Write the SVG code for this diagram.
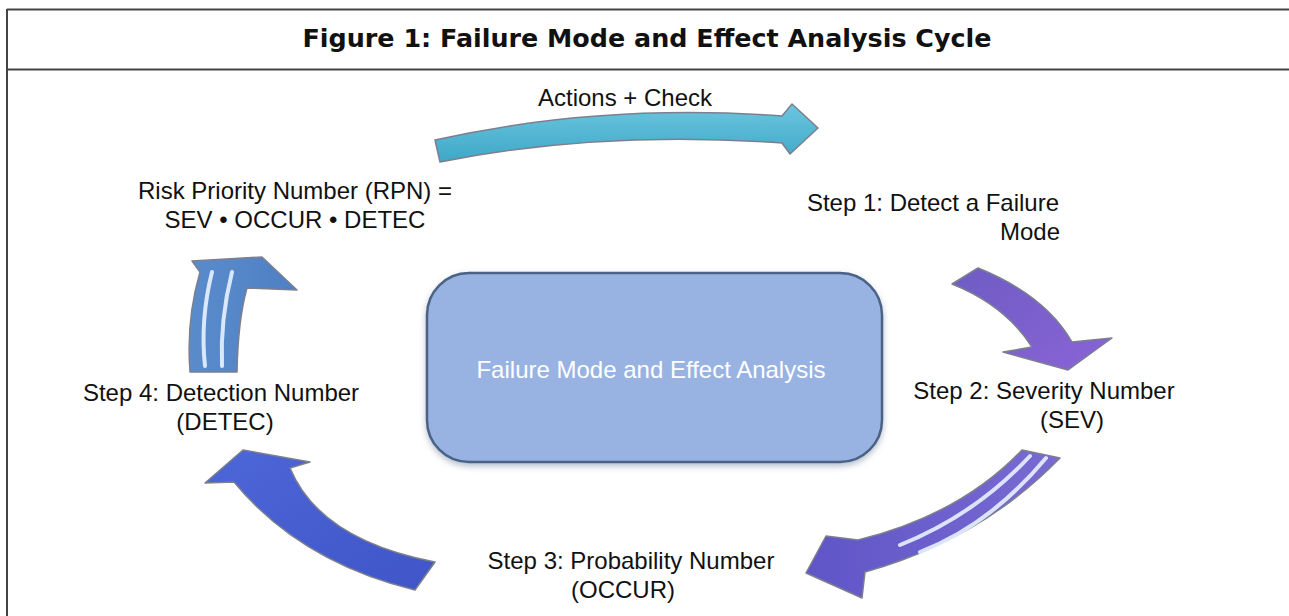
<svg xmlns="http://www.w3.org/2000/svg" width="1289" height="616" viewBox="0 0 1289 616">
<style>
.lbl{font-family:"Liberation Sans",Arial,sans-serif;font-size:24px;fill:#111;text-anchor:middle}
.title{font-family:"DejaVu Sans",Verdana,sans-serif;font-size:24px;font-weight:bold;fill:#111;text-anchor:middle}
.frame{stroke:#444;stroke-width:2;fill:none}
.arw{stroke:#7b7f8e;stroke-width:1.5;stroke-linejoin:round}
.stripe{stroke:#e8f2ff;stroke-width:4;fill:none;stroke-linecap:round;opacity:.9}
</style>
<defs>
<linearGradient id="gCyan" x1="0" y1="0" x2="0" y2="1">
<stop offset="0" stop-color="#6cc6de"/><stop offset="1" stop-color="#3ea7c8"/>
</linearGradient>
<linearGradient id="gPur1" x1="0" y1="0" x2="1" y2="1">
<stop offset="0" stop-color="#6e5cc4"/><stop offset="1" stop-color="#8a63d6"/>
</linearGradient>
<linearGradient id="gPur2" x1="0" y1="0" x2="1" y2="0">
<stop offset="0" stop-color="#5f55c8"/><stop offset="1" stop-color="#7a6ad2"/>
</linearGradient>
<linearGradient id="gBlue" x1="0" y1="0" x2="1" y2="1">
<stop offset="0" stop-color="#4d66d8"/><stop offset="1" stop-color="#3f55c8"/>
</linearGradient>
<linearGradient id="gStr" x1="0" y1="0" x2="1" y2="0">
<stop offset="0" stop-color="#5a8ccc"/><stop offset="1" stop-color="#4f7fc4"/>
</linearGradient>
<filter id="shadow" x="-10%" y="-10%" width="120%" height="130%">
<feGaussianBlur in="SourceAlpha" stdDeviation="3"/>
<feOffset dx="0" dy="3" result="b"/>
<feFlood flood-color="#6a7d9c" flood-opacity="0.5"/>
<feComposite in2="b" operator="in"/>
<feMerge><feMergeNode/><feMergeNode in="SourceGraphic"/></feMerge>
</filter>
</defs>
<rect width="1289" height="616" fill="#fff"/>
<g id="frame">
<line class="frame" x1="7" y1="9.5" x2="1289" y2="9.5"/>
<line class="frame" x1="7" y1="69.5" x2="1289" y2="69.5"/>
<line class="frame" x1="7" y1="9" x2="7" y2="616"/>
</g>
<g id="title"><text class="title" x="647" y="47" textLength="689" lengthAdjust="spacingAndGlyphs">Figure 1: Failure Mode and Effect Analysis Cycle</text></g>

<g id="connectors">
<path id="arrow-actions" class="arw" fill="url(#gCyan)" d="M435,140 Q600,103 782,116 L792,104 L818,128 L790,154 L782,143 Q600,130 440,162 Z"/>
<path id="arrow-step1-step2" class="arw" fill="url(#gPur1)" d="M952,284 L978,268 Q1045,295 1072,342 L1112,338 L1068,370 L1003,352 L1032,347 Q1005,305 952,284 Z"/>
<g id="arrow-step2-step3">
<path class="arw" fill="url(#gPur2)" d="M1022,450 L1060,458 Q980,540 865,572 L862,598 L806,573 L826,536 L858,540 Q960,515 1022,450 Z"/>
<path class="stripe" stroke-width="3" d="M1030,456 Q975,515 900,545"/>
<path class="stripe" stroke-width="3" d="M1046,458 Q990,525 920,552"/>
</g>
<g id="arrow-step3-step4">
<path class="arw" fill="url(#gBlue)" d="M435,562 L415,590 Q300,562 234,482 L205,483 L243,450 L310,462 L290,468 Q320,540 435,562 Z"/>
</g>
<g id="arrow-step4-rpn">
<path class="arw" fill="url(#gStr)" d="M190,372 L237,372 Q238,320 247,288 L297,290 L262,257 L192,261 L200,272 Q186,320 190,372 Z"/>
<path class="stripe" d="M205,366 Q200,320 212,272"/>
<path class="stripe" d="M222,366 Q220,320 232,272"/>
</g>
</g>

<g id="node-fmea">
<rect x="427" y="273" width="455" height="189" rx="42" ry="42" fill="#98b3e2" stroke="#4a6286" stroke-width="2.5" filter="url(#shadow)"/>
<text class="lbl" x="651" y="378" style="fill:#fff">Failure Mode and Effect Analysis</text>
</g>
<g id="node-actions"><text class="lbl" x="625" y="106">Actions + Check</text></g>
<g id="node-rpn">
<text class="lbl" x="295" y="199">Risk Priority Number (RPN) =</text>
<text class="lbl" x="295" y="228">SEV • OCCUR • DETEC</text>
</g>
<g id="node-step1">
<text class="lbl" x="933" y="211">Step 1: Detect a Failure</text>
<text class="lbl" x="1030" y="240">Mode</text>
</g>
<g id="node-step2">
<text class="lbl" x="1044" y="399">Step 2: Severity Number</text>
<text class="lbl" x="1072" y="428">(SEV)</text>
</g>
<g id="node-step3">
<text class="lbl" x="631" y="569">Step 3: Probability Number</text>
<text class="lbl" x="623" y="598">(OCCUR)</text>
</g>
<g id="node-step4">
<text class="lbl" x="221" y="401">Step 4: Detection Number</text>
<text class="lbl" x="225" y="430">(DETEC)</text>
</g>
</svg>
